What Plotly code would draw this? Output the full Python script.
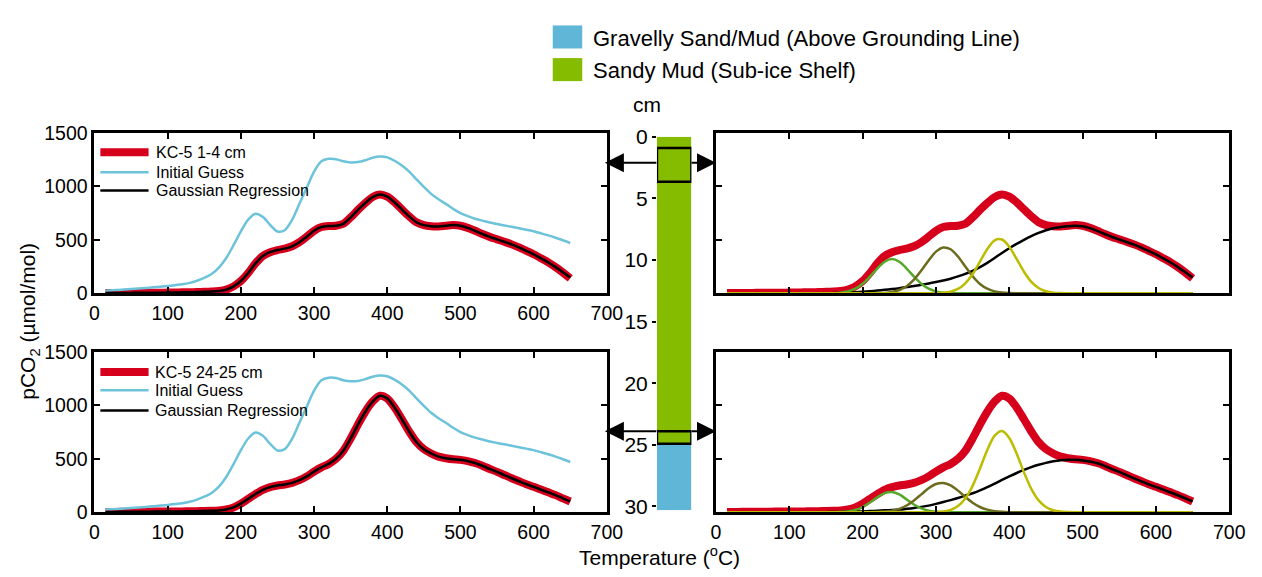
import plotly.graph_objects as go

# ---------------- data ----------------
temperature = [15, 30, 40, 50, 60, 70, 80, 90, 100, 110,
               120, 130, 140, 150, 160, 170, 180, 190, 200, 210,
               220, 230, 240, 250, 260, 270, 280, 290, 300, 310,
               320, 330, 340, 350, 360, 370, 380, 390, 400, 410,
               420, 430, 440, 450, 460, 470, 480, 490, 500, 510,
               520, 530, 540, 550, 560, 570, 580, 590, 600, 610,
               620, 630, 640, 650]

# KC-5 1-4 cm
measured_top = [3, 3, 4, 4, 5, 5, 6, 6, 7, 8,
                9, 10, 12, 14, 17, 22, 35, 65, 115, 190,
                280, 350, 385, 405, 418, 440, 478, 530, 585, 620,
                630, 632, 650, 710, 780, 845, 900, 925, 905, 852,
                785, 720, 665, 638, 628, 626, 632, 638, 632, 612,
                585, 555, 528, 505, 482, 458, 430, 398, 365, 328,
                290, 245, 195, 140]
fit_top = [3, 3, 4, 4, 5, 5, 6, 6, 7, 8,
           9, 10, 12, 14, 17, 22, 35, 65, 115, 190,
           280, 350, 385, 405, 418, 440, 478, 530, 585, 620,
           630, 632, 650, 710, 780, 845, 900, 925, 905, 852,
           785, 720, 665, 638, 628, 626, 632, 638, 632, 612,
           585, 555, 528, 505, 482, 458, 430, 398, 365, 328,
           290, 245, 197, 148]
initial_guess = [25, 30, 35, 40, 45, 50, 56, 62, 68, 76,
                 85, 98, 118, 145, 180, 240, 330, 450, 580, 690,
                 745, 715, 640, 578, 590, 687, 837, 988, 1138, 1235,
                 1258, 1255, 1235, 1225, 1228, 1245, 1268, 1280, 1272, 1240,
                 1195, 1138, 1065, 995, 930, 880, 837, 790, 750, 722,
                 698, 680, 662, 648, 635, 622, 608, 595, 581, 562,
                 542, 520, 496, 470]

# KC-5 24-25 cm
measured_bot = [3, 3, 4, 4, 5, 5, 6, 6, 7, 7,
                8, 9, 10, 11, 13, 17, 26, 45, 80, 125,
                170, 210, 235, 250, 260, 275, 300, 335, 380, 420,
                452, 500, 575, 690, 820, 940, 1035, 1090, 1065, 980,
                870, 755, 655, 590, 550, 520, 505, 495, 490, 478,
                460, 435, 405, 378, 348, 318, 290, 262, 238, 212,
                186, 160, 130, 100]
fit_bot = [3, 3, 4, 4, 5, 5, 6, 6, 7, 7,
           8, 9, 10, 11, 13, 17, 26, 45, 80, 125,
           170, 210, 235, 250, 260, 275, 300, 335, 380, 420,
           452, 500, 575, 690, 820, 940, 1035, 1090, 1065, 980,
           870, 755, 655, 590, 550, 520, 505, 495, 490, 478,
           460, 435, 405, 378, 348, 318, 290, 262, 238, 212,
           186, 160, 130, 102]

# Gaussian components, KC-5 1-4 cm
comp1_top = [0, 0, 0, 0, 0, 0, 0, 0, 0, 0,
             0, 0, 0, 0, 0, 6, 18, 43, 89, 156,
             232, 295, 320, 295, 232, 156, 89, 43, 18, 6,
             2, 0, 0, 0, 0, 0, 0, 0, 0, 0,
             0, 0, 0, 0, 0, 0, 0, 0, 0, 0,
             0, 0, 0, 0, 0, 0, 0, 0, 0, 0,
             0, 0, 0, 0]
comp2_top = [0, 0, 0, 0, 0, 0, 0, 0, 0, 0,
             0, 0, 0, 0, 0, 0, 0, 0, 0, 0,
             1, 4, 12, 31, 67, 128, 213, 308, 390, 429,
             412, 344, 251, 160, 88, 43, 18, 7, 2, 0,
             0, 0, 0, 0, 0, 0, 0, 0, 0, 0,
             0, 0, 0, 0, 0, 0, 0, 0, 0, 0,
             0, 0, 0, 0]
comp3_top = [0, 0, 0, 0, 0, 0, 0, 0, 0, 0,
             0, 0, 0, 0, 0, 0, 0, 0, 0, 0,
             0, 0, 0, 0, 0, 0, 0, 0, 1, 5,
             16, 41, 94, 181, 297, 415, 496, 503, 436, 322,
             202, 108, 50, 19, 6, 2, 0, 0, 0, 0,
             0, 0, 0, 0, 0, 0, 0, 0, 0, 0,
             0, 0, 0, 0]
comp4_top = [0, 0, 0, 0, 0, 0, 0, 0, 0, 0,
             0, 0, 0, 0, 2, 4, 7, 11, 15, 20,
             26, 33, 40, 48, 58, 68, 80, 92, 105, 120,
             137, 158, 182, 210, 245, 285, 330, 378, 422, 462,
             500, 535, 565, 590, 608, 620, 628, 632, 628, 610,
             584, 555, 527, 503, 480, 456, 428, 397, 364, 327,
             288, 245, 197, 148]

# Gaussian components, KC-5 24-25 cm
comp1_bot = [0, 0, 0, 0, 0, 0, 0, 0, 0, 0,
             0, 0, 0, 0, 0, 2, 8, 21, 49, 91,
             140, 179, 189, 166, 120, 72, 36, 15, 5, 1,
             0, 0, 0, 0, 0, 0, 0, 0, 0, 0,
             0, 0, 0, 0, 0, 0, 0, 0, 0, 0,
             0, 0, 0, 0, 0, 0, 0, 0, 0, 0,
             0, 0, 0, 0]
comp2_bot = [0, 0, 0, 0, 0, 0, 0, 0, 0, 0,
             0, 0, 0, 0, 0, 0, 0, 0, 0, 0,
             2, 6, 14, 32, 63, 110, 167, 224, 264, 274,
             251, 202, 143, 89, 49, 24, 10, 4, 1, 0,
             0, 0, 0, 0, 0, 0, 0, 0, 0, 0,
             0, 0, 0, 0, 0, 0, 0, 0, 0, 0,
             0, 0, 0, 0]
comp3_bot = [0, 0, 0, 0, 0, 0, 0, 0, 0, 0,
             0, 0, 0, 0, 0, 0, 0, 0, 0, 0,
             0, 0, 0, 0, 0, 0, 0, 0, 2, 8,
             22, 58, 129, 247, 408, 582, 716, 760, 695, 549,
             373, 219, 111, 49, 18, 6, 2, 0, 0, 0,
             0, 0, 0, 0, 0, 0, 0, 0, 0, 0,
             0, 0, 0, 0]
comp4_bot = [0, 0, 0, 0, 0, 0, 0, 0, 0, 0,
             0, 0, 0, 0, 2, 3, 5, 6, 8, 11,
             14, 18, 21, 25, 32, 40, 50, 62, 78, 95,
             113, 133, 155, 178, 205, 235, 268, 302, 335, 367,
             396, 422, 444, 462, 476, 486, 490, 490, 485, 474,
             458, 434, 404, 377, 347, 317, 289, 261, 237, 211,
             185, 159, 130, 102]

# core column
layer_names = ["Sandy Mud (Sub-ice Shelf)", "Gravelly Sand/Mud (Above Grounding Line)"]
layer_top = [0, 25]
layer_bottom = [25, 30.3]
sample_labels = ["KC-5 1-4 cm", "KC-5 24-25 cm"]
sample_top = [0.9, 23.9]
sample_bottom = [3.65, 24.9]
arrow_depth = [2.1, 23.9]

x_ticks = [0, 100, 200, 300, 400, 500, 600, 700]
y_ticks = [0, 500, 1000, 1500]
depth_ticks = [0, 5, 10, 15, 20, 25, 30]

# ---------------- style ----------------
W, H = 1262, 577
FONT = "Liberation Sans, Arial, sans-serif"
RED = "#d6001c"
BLUE = "#6cc3da"
C1 = "#55a82a"
C2 = "#6c6c1e"
C3 = "#bcbc00"
LAYER_COLORS = ["#86bc00", "#60b6d6"]
TICK_SIZE = 19.5


def fx(p):
    return p / W


def fy(p):
    return 1 - p / H


fig = go.Figure()

# left panels
for i, (meas, fit, lab) in enumerate([(measured_top, fit_top, sample_labels[0]),
                                      (measured_bot, fit_bot, sample_labels[1])]):
    ax = "" if i == 0 else "2"
    fig.add_trace(go.Scatter(x=temperature, y=meas, mode="lines", name=lab,
                             line=dict(color=RED, width=8, shape="spline", smoothing=0.8),
                             xaxis="x" + ax, yaxis="y" + ax, showlegend=False))
    fig.add_trace(go.Scatter(x=temperature, y=initial_guess, mode="lines", name="Initial Guess",
                             line=dict(color=BLUE, width=2.5, shape="spline", smoothing=0.8),
                             xaxis="x" + ax, yaxis="y" + ax, showlegend=False))
    fig.add_trace(go.Scatter(x=temperature, y=fit, mode="lines", name="Gaussian Regression",
                             line=dict(color="black", width=2.5, shape="spline", smoothing=0.8),
                             xaxis="x" + ax, yaxis="y" + ax, showlegend=False))

# right panels
for i, (meas, comps) in enumerate([(measured_top, [comp4_top, comp1_top, comp2_top, comp3_top]),
                                   (measured_bot, [comp4_bot, comp1_bot, comp2_bot, comp3_bot])]):
    ax = "3" if i == 0 else "4"
    fig.add_trace(go.Scatter(x=temperature, y=meas, mode="lines", name=sample_labels[i],
                             line=dict(color=RED, width=8, shape="spline", smoothing=0.8),
                             xaxis="x" + ax, yaxis="y" + ax, showlegend=False))
    for comp, col in zip(comps, ["black", C1, C2, C3]):
        fig.add_trace(go.Scatter(x=temperature, y=comp, mode="lines",
                                 line=dict(color=col, width=2.5, shape="spline", smoothing=0.8),
                                 xaxis="x" + ax, yaxis="y" + ax, showlegend=False))

# core column
for name, top, bot, col in zip(layer_names, layer_top, layer_bottom, LAYER_COLORS):
    fig.add_trace(go.Bar(x=[0], y=[bot - top], base=[top], width=[1], name=name,
                         marker=dict(color=col, line=dict(width=0)),
                         xaxis="x5", yaxis="y5", showlegend=False))

axis_common = dict(showline=True, linecolor="black", linewidth=3, mirror="allticks",
                   ticks="inside", ticklen=6, tickwidth=1.5, tickcolor="black",
                   showgrid=False, zeroline=False,
                   tickfont=dict(family=FONT, size=TICK_SIZE, color="black"))

xl = [fx(91), fx(612)]
xr = [fx(723), fx(1245)]
yt = [fy(293), fy(126)]
yb = [fy(521), fy(354)]

layout = dict(
    width=W, height=H, margin=dict(l=0, r=0, t=0, b=0),
    paper_bgcolor="white", plot_bgcolor="white",
    font=dict(family=FONT, color="black"),
    barmode="overlay", showlegend=False,
    xaxis=dict(domain=xl, anchor="y", range=[0, 700], tickvals=x_ticks, **axis_common),
    yaxis=dict(domain=yt, anchor="x", range=[0, 1500], tickvals=y_ticks, **axis_common),
    xaxis2=dict(domain=xl, anchor="y2", range=[0, 700], tickvals=x_ticks, **axis_common),
    yaxis2=dict(domain=yb, anchor="x2", range=[0, 1500], tickvals=y_ticks, **axis_common),
    xaxis3=dict(domain=xr, anchor="y3", range=[0, 700], tickvals=x_ticks,
                showticklabels=False, **axis_common),
    yaxis3=dict(domain=yt, anchor="x3", range=[0, 1500], tickvals=y_ticks,
                showticklabels=False, **axis_common),
    xaxis4=dict(domain=xr, anchor="y4", range=[0, 700], tickvals=x_ticks, **axis_common),
    yaxis4=dict(domain=yb, anchor="x4", range=[0, 1500], tickvals=y_ticks,
                showticklabels=False, **axis_common),
    xaxis5=dict(domain=[fx(663), fx(698)], anchor="y5", range=[-0.5, 0.5], visible=False),
    yaxis5=dict(domain=[fy(518.85), fy(130)], anchor="x5", range=[30.3, 0],
                tickvals=depth_ticks, ticks="outside", ticklen=4, tickwidth=2,
                tickcolor="black", showline=False, showgrid=False, zeroline=False,
                tickfont=dict(family=FONT, size=21, color="black")),
)
fig.update_layout(**layout)

shapes = []
annotations = []

# sample boxes on core
for t, b in zip(sample_top, sample_bottom):
    shapes.append(dict(type="rect", xref="x5", yref="y5", x0=-0.5, x1=0.5, y0=t, y1=b,
                       line=dict(color="black", width=2.5), fillcolor="rgba(0,0,0,0)"))

# arrows (tip at panel frame, tail at the core column edge; offsets in pixels)
for d in arrow_depth:
    annotations.append(dict(x=fx(610), y=d, xref="paper", yref="y5",
                            ax=53, ay=0, axref="pixel", ayref="pixel",
                            showarrow=True, arrowhead=2, arrowsize=1.9, arrowwidth=2,
                            arrowcolor="black", text=""))
    annotations.append(dict(x=fx(723), y=d, xref="paper", yref="y5",
                            ax=-26, ay=0, axref="pixel", ayref="pixel",
                            showarrow=True, arrowhead=2, arrowsize=1.9, arrowwidth=2,
                            arrowcolor="black", text=""))

# top legend (lithology)
for (y0, y1, ytxt), name, col in zip([(14, 38, 28), (48, 72, 61)], layer_names[::-1], LAYER_COLORS[::-1]):
    shapes.append(dict(type="rect", xref="paper", yref="paper", x0=fx(557), x1=fx(587),
                       y0=fy(y1), y1=fy(y0), fillcolor=col, line=dict(width=0)))
    annotations.append(dict(x=fx(596), y=fy(ytxt), xref="paper", yref="paper", text=name,
                            showarrow=False, xanchor="left", yanchor="middle",
                            font=dict(family=FONT, size=22, color="black")))

# panel legends
for rows, tx, lab in [([146, 167, 186], 152, sample_labels[0]),
                      ([375, 394, 415], 150, sample_labels[1])]:
    for yy, col, wdt, txt in zip(rows, [RED, BLUE, "black"], [8, 2.5, 2.5],
                                 [lab, "Initial Guess", "Gaussian Regression"]):
        shapes.append(dict(type="line", xref="paper", yref="paper", x0=fx(97), x1=fx(146),
                           y0=fy(yy), y1=fy(yy), line=dict(color=col, width=wdt)))
        annotations.append(dict(x=fx(tx), y=fy(yy), xref="paper", yref="paper", text=txt,
                                showarrow=False, xanchor="left", yanchor="middle",
                                font=dict(family=FONT, size=16, color="black")))

# titles
annotations.append(dict(x=fx(25), y=fy(322), xref="paper", yref="paper",
                        text="pCO<sub>2</sub> (µmol/mol)", textangle=-90, showarrow=False,
                        xanchor="center", yanchor="middle",
                        font=dict(family=FONT, size=21, color="black")))
annotations.append(dict(x=fx(666), y=fy(567), xref="paper", yref="paper",
                        text="Temperature (<sup>o</sup>C)", showarrow=False,
                        xanchor="center", yanchor="middle",
                        font=dict(family=FONT, size=21, color="black")))
annotations.append(dict(x=fx(653), y=fy(96), xref="paper", yref="paper",
                        text="cm", showarrow=False, xanchor="center", yanchor="middle",
                        font=dict(family=FONT, size=21, color="black")))

fig.update_layout(shapes=shapes, annotations=annotations)
fig.write_html("out.html",
               post_script="document.body.style.margin='0';document.body.style.overflow='hidden';")
